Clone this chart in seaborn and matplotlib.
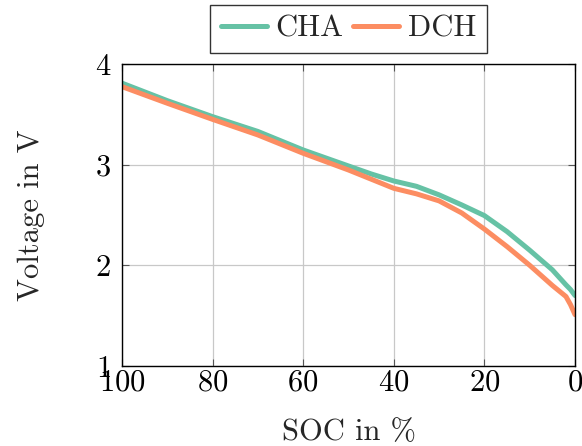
import matplotlib
matplotlib.use("Agg")
import matplotlib.pyplot as plt
import seaborn as sns
import pandas as pd

soc = [100, 90, 80, 70, 60, 50, 45, 40, 35, 30, 25, 20, 15, 10, 5, 2, 1, 0]
cha = [3.81, 3.636, 3.477, 3.33, 3.146, 2.987, 2.908, 2.838, 2.785, 2.70, 2.60, 2.494, 2.335, 2.15, 1.955, 1.806, 1.76, 1.70]
dch = [3.775, 3.61, 3.45, 3.295, 3.113, 2.947, 2.856, 2.765, 2.71, 2.64, 2.52, 2.36, 2.186, 2.0, 1.80, 1.69, 1.61, 1.51]
series = ["CHA", "DCH"]
colors = ["#66c2a5", "#fc8d62"]
xticks = [100, 80, 60, 40, 20, 0]
yticks = [1, 2, 3, 4]

df = pd.concat([
    pd.DataFrame({"SOC": soc, "V": cha, "s": series[0]}),
    pd.DataFrame({"SOC": soc, "V": dch, "s": series[1]}),
])

sns.set_style("ticks")
plt.rcParams["font.family"] = ["cmr10"]
plt.rcParams["mathtext.fontset"] = "cm"
plt.rcParams["axes.formatter.use_mathtext"] = True

fig = plt.figure(figsize=(5.82, 4.46), dpi=100)
ax = fig.add_axes([0.2096, 0.1794, 0.988 - 0.2096, 0.8565 - 0.1794])
sns.lineplot(data=df, x="SOC", y="V", hue="s", palette=colors, linewidth=3.6,
             ax=ax, sort=False, estimator=None)

ax.set_xlim(100, 0)
ax.set_ylim(1, 4)
ax.set_xticks(xticks)
ax.set_yticks(yticks)
ax.grid(True, color="#c8c8c8", linewidth=0.9)
ax.set_axisbelow(True)
for sp in ax.spines.values():
    sp.set_visible(True)
    sp.set_color("black")
    sp.set_linewidth(1.0)
ax.tick_params(direction="in", top=True, right=True, length=5, width=0.8,
               labelsize=22, colors="#555555", labelcolor="black")
ax.tick_params(axis="x", pad=2)
ax.tick_params(axis="y", pad=8)
ax.set_xlabel("SOC in %", fontsize=22, labelpad=16)
ax.set_ylabel("Voltage in V", fontsize=22, labelpad=36)

leg = ax.legend(loc="lower center", bbox_to_anchor=(0.5, 1.035), ncol=2,
                fontsize=22, handlelength=1.5, handletextpad=0.3,
                columnspacing=0.3, borderpad=0.35, frameon=True, fancybox=False,
                borderaxespad=0)
leg.get_frame().set_edgecolor("black")
leg.get_frame().set_linewidth(1.0)
for line in leg.get_lines():
    line.set_linewidth(3.6)

fig.savefig("out.png", dpi=100)
